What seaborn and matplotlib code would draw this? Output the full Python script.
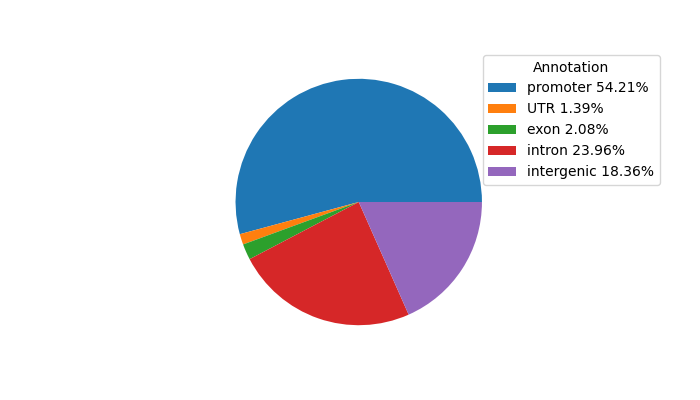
import matplotlib
matplotlib.use("Agg")
import matplotlib.pyplot as plt
import seaborn as sns

categories = ["promoter", "UTR", "exon", "intron", "intergenic"]
percentages = [54.21, 1.39, 2.08, 23.96, 18.36]

colors = sns.color_palette("tab10", len(categories))

fig, ax = plt.subplots(figsize=(7, 4), dpi=100)
wedges, _ = ax.pie(percentages, colors=colors)
labels = [f"{c} {p:.2f}%" for c, p in zip(categories, percentages)]
ax.legend(wedges, labels, title="Annotation", loc="upper right", bbox_to_anchor=(1.5, 1))

fig.savefig("out.png")
